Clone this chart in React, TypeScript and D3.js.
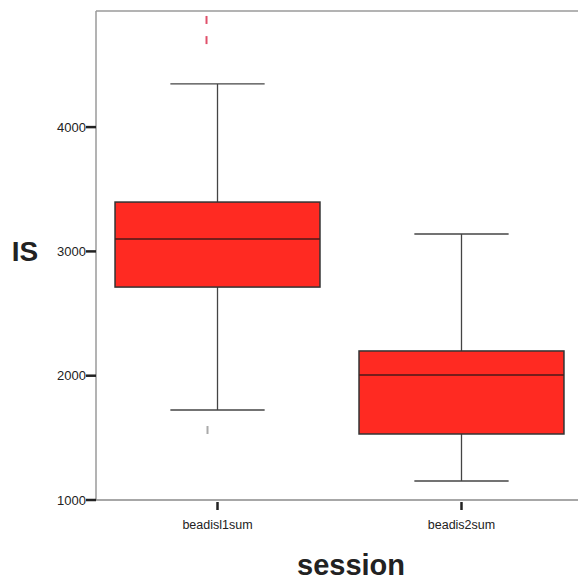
import React from "react";
import * as d3 from "d3";

const categories = ["beadisl1sum", "beadis2sum"];
const q1 = [2713, 1531];
const medians = [3100, 2005];
const q3 = [3397, 2199];
const whiskerLow = [1724, 1153];
const whiskerHigh = [4347, 3140];
const extremeOutliers = [[4862, 4700], []];
const outliers = [[1563], []];
const yTicks = [1000, 2000, 3000, 4000];

export default function App() {
  const W = 578, H = 582;
  const left = 96, top = 11, bottom = 500, right = 590;
  const y = d3.scaleLinear().domain([1000, 4934]).range([bottom, top]);
  const x = d3.scaleBand().domain(categories).range([left, 583]).paddingInner(0.16).paddingOuter(0.078);
  const bw = x.bandwidth();
  const font = "Arial, 'Liberation Sans', sans-serif";
  return (
    <svg width={W} height={H} style={{ position: "absolute", left: 0, top: 0, background: "#fff" }}>
      <rect x={0} y={0} width={W} height={H} fill="#fff" />
      <line x1={left} x2={right} y1={top} y2={top} stroke="#9a9a9a" strokeWidth={1.5} />
      <line x1={left} x2={left} y1={top} y2={bottom} stroke="#9a9a9a" strokeWidth={1.5} />
      <line x1={left} x2={right} y1={bottom} y2={bottom} stroke="#8a8a8a" strokeWidth={1.5} />
      {yTicks.map((t) => (
        <g key={t}>
          <line x1={left - 10} x2={left} y1={y(t)} y2={y(t)} stroke="#222" strokeWidth={2.5} />
          <text x={left - 10} y={y(t)} dy="0.35em" textAnchor="end" fontFamily={font} fontSize={13} fill="#222">{t}</text>
        </g>
      ))}
      {categories.map((c, i) => {
        const cx = x(c)! + bw / 2;
        return (
          <g key={c}>
            <line x1={cx} x2={cx} y1={bottom + 2} y2={bottom + 10} stroke="#222" strokeWidth={2.5} />
            <text x={cx} y={bottom + 29} textAnchor="middle" fontFamily={font} fontSize={12.5} fill="#222">{c}</text>
            <line x1={cx} x2={cx} y1={y(whiskerHigh[i])} y2={y(q3[i])} stroke="#444" strokeWidth={1.3} />
            <line x1={cx} x2={cx} y1={y(q1[i])} y2={y(whiskerLow[i])} stroke="#444" strokeWidth={1.3} />
            <line x1={cx - bw * 0.23} x2={cx + bw * 0.23} y1={y(whiskerHigh[i])} y2={y(whiskerHigh[i])} stroke="#444" strokeWidth={1.3} />
            <line x1={cx - bw * 0.23} x2={cx + bw * 0.23} y1={y(whiskerLow[i])} y2={y(whiskerLow[i])} stroke="#444" strokeWidth={1.3} />
            <rect x={x(c)!} y={y(q3[i])} width={bw} height={y(q1[i]) - y(q3[i])} fill="#ff2a22" stroke="#333" strokeWidth={1.5} />
            <line x1={x(c)!} x2={x(c)! + bw} y1={y(medians[i])} y2={y(medians[i])} stroke="#4a1a1a" strokeWidth={1.5} />
            {extremeOutliers[i].map((v, j) => (
              <line key={"e" + j} x1={cx - 11} x2={cx - 11} y1={y(v) - 4} y2={y(v) + 4} stroke="#e0506a" strokeWidth={2} />
            ))}
            {outliers[i].map((v, j) => (
              <line key={"o" + j} x1={cx - 10} x2={cx - 10} y1={y(v) - 4} y2={y(v) + 4} stroke="#aaa" strokeWidth={2} />
            ))}
          </g>
        );
      })}
      <text x={25} y={y(3000)} dy="0.35em" textAnchor="middle" fontFamily={font} fontWeight="bold" fontSize={28} fill="#222">IS</text>
      <text x={351} y={575} textAnchor="middle" fontFamily={font} fontWeight="bold" fontSize={29} fill="#222">session</text>
    </svg>
  );
}
